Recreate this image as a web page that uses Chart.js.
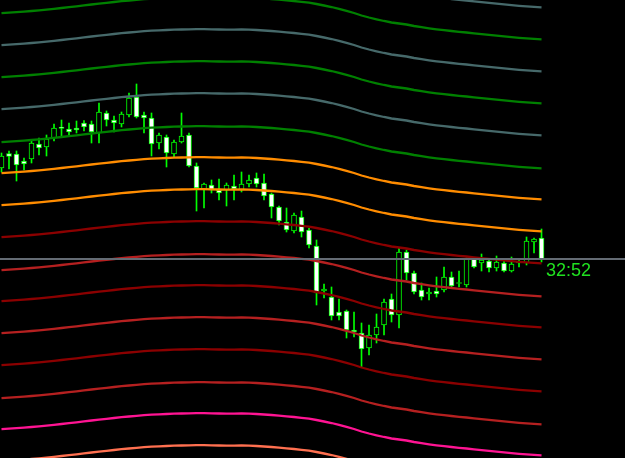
<!DOCTYPE html>
<html>
<head>
<meta charset="utf-8">
<script src="https://cdn.jsdelivr.net/npm/chart.js@4.4.0/dist/chart.umd.min.js"></script>
<style>
    html, body { margin: 0; padding: 0; background: #000; }
    canvas { display: block; }
</style>
</head>
<body>
<canvas id="chartPrice" width="625" height="458"></canvas>
<script>
// candles, oldest first
const opens = [1.08790, 1.088045, 1.08804, 1.08797, 1.08799, 1.08814, 1.08811, 1.08820, 1.08831, 1.08829,
    1.08830, 1.08835, 1.08834, 1.08825, 1.08845, 1.08838, 1.08834, 1.08843, 1.08861, 1.08843,
    1.08840, 1.08815, 1.08821, 1.08804, 1.08816, 1.08823, 1.08792, 1.08768, 1.08773, 1.08768,
    1.08768, 1.08772, 1.08768, 1.08774, 1.08780, 1.08775, 1.08764, 1.08751, 1.08736, 1.08727,
    1.08741, 1.08728, 1.08712, 1.08667, 1.08661, 1.08646, 1.08647, 1.08628, 1.08625, 1.08610,
    1.08623, 1.08633, 1.08659, 1.08643, 1.08706, 1.08685, 1.08668, 1.08664, 1.08667, 1.08668,
    1.08681, 1.086745, 1.08673, 1.08699, 1.08695, 1.08697, 1.08690, 1.08695, 1.08687, 1.08695,
    1.08695, 1.08716, 1.08720];
const closes = [1.08802, 1.088015, 1.08793, 1.08794, 1.08815, 1.08810, 1.08819, 1.08830, 1.088295, 1.08826,
    1.08828, 1.08831, 1.08826, 1.08846, 1.08838, 1.08835, 1.08844, 1.08860, 1.08841, 1.08840,
    1.08814, 1.08823, 1.08805, 1.08816, 1.08822, 1.08792, 1.08770, 1.08774, 1.08768, 1.08765,
    1.08773, 1.08769, 1.08774, 1.08778, 1.08774, 1.08762, 1.08751, 1.08737, 1.08728, 1.08743,
    1.08726, 1.08713, 1.08665, 1.08669, 1.08642, 1.08642, 1.08628, 1.08626, 1.08609, 1.08623,
    1.08631, 1.08656, 1.08643, 1.08706, 1.08685, 1.08666, 1.08661, 1.08666, 1.08664, 1.08681,
    1.08672, 1.086755, 1.08699, 1.08691, 1.08698, 1.08690, 1.08696, 1.08687, 1.08694, 1.08696,
    1.08717, 1.08719, 1.08699];
const highs = [1.08805, 1.08807, 1.08807, 1.08800, 1.08818, 1.08820, 1.08823, 1.08834, 1.08838, 1.08835,
    1.08837, 1.088375, 1.08837, 1.08855, 1.08847, 1.08842, 1.08846, 1.08865, 1.08874, 1.08846,
    1.08845, 1.08825, 1.08823, 1.08818, 1.08845, 1.08825, 1.08795, 1.08775, 1.08778, 1.08779,
    1.08775, 1.08783, 1.08786, 1.08783, 1.08785, 1.08784, 1.08765, 1.08752, 1.08750, 1.08745,
    1.08747, 1.08730, 1.08718, 1.08674, 1.08671, 1.08659, 1.08648, 1.08646, 1.08635, 1.08633,
    1.08644, 1.08659, 1.08664, 1.08710, 1.08708, 1.08687, 1.08675, 1.08670, 1.08681, 1.08691,
    1.08686, 1.08687, 1.08700, 1.08700, 1.08704, 1.08698, 1.08702, 1.08697, 1.08701, 1.08699,
    1.08721, 1.08720, 1.08729];
const lows = [1.08786, 1.08789, 1.08777, 1.08788, 1.08795, 1.08803, 1.08802, 1.08817, 1.08821, 1.08823,
    1.08825, 1.08827, 1.08815, 1.08815, 1.08832, 1.08826, 1.08831, 1.08841, 1.08840, 1.08825,
    1.08802, 1.08809, 1.08791, 1.08801, 1.08815, 1.08791, 1.08747, 1.08750, 1.08765, 1.08758,
    1.08752, 1.08758, 1.08766, 1.08771, 1.08771, 1.08758, 1.08740, 1.08733, 1.08726, 1.08725,
    1.08721, 1.08710, 1.08653, 1.08660, 1.08638, 1.08638, 1.08620, 1.08621, 1.08591, 1.08603,
    1.08615, 1.08623, 1.08636, 1.08630, 1.08678, 1.08664, 1.08658, 1.08658, 1.08661, 1.08666,
    1.08670, 1.08671, 1.08671, 1.08690, 1.08687, 1.08686, 1.08687, 1.08686, 1.08686, 1.08691,
    1.08693, 1.08705, 1.08696];

// moving average the envelope bands sit on
const maBase = [1.087208, 1.087213, 1.087218, 1.087224, 1.087230, 1.087237, 1.087244, 1.087252, 1.087260, 1.087268,
    1.087277, 1.087286, 1.087295, 1.087304, 1.087312, 1.087320, 1.087328, 1.087335, 1.087342, 1.087348,
    1.087353, 1.087357, 1.087360, 1.087363, 1.087365, 1.087367, 1.087368, 1.087368, 1.087367, 1.087365,
    1.087364, 1.087364, 1.087365, 1.087364, 1.087360, 1.087355, 1.087350, 1.087344, 1.087337, 1.087330,
    1.087322, 1.087313, 1.087300, 1.087285, 1.087270, 1.087252, 1.087232, 1.087210, 1.087185, 1.087165,
    1.087147, 1.087130, 1.087115, 1.087105, 1.087095, 1.087080, 1.087068, 1.087057, 1.087047, 1.087038,
    1.087030, 1.087022, 1.087015, 1.087007, 1.086999, 1.086991, 1.086983, 1.086976, 1.086969, 1.086962,
    1.086956, 1.086951, 1.086947];

// band offsets from the average, top band first
const bandShifts = [0.00256, 0.00224, 0.00192, 0.00160, 0.00128, 0.00095, 0.00064, 0.00032,
    0, -0.00033, -0.00064, -0.00096, -0.00128, -0.00161, -0.00192, -0.00224];
const bandColors = ['#46696a', '#008000', '#46696a', '#008000', '#46696a', '#008000', '#ff8c00', '#ff8c00',
    '#8b0000', '#b52020', '#8b0000', '#b52020', '#8b0000', '#b52020', '#ff1493', '#ff7050'];

const bidPrice = 1.08699;
const timerLabel = '32:52';

const priceMin = 1.08500;
const priceMax = 1.08958;
const indexMin = -0.2;
const indexMax = 83.13;

const bodies = opens.map((o, i) => ({ x: i, y: [o, closes[i]] }));
const wicks = lows.map((l, i) => ({ x: i, y: [l, highs[i]] }));

const datasets = [];

// envelope lines, drawn over the candles
bandShifts.forEach((shift, k) => {
    datasets.push({
        type: 'line',
        data: maBase.map((m, i) => ({ x: i, y: m + shift })),
        borderColor: bandColors[k],
        borderWidth: 2.3,
        pointRadius: 0,
        tension: 0,
        order: 1
    });
});

// bid line
datasets.push({
    type: 'line',
    data: [{ x: indexMin, y: bidPrice }, { x: indexMax, y: bidPrice }],
    borderColor: '#646b74',
    borderWidth: 2,
    pointRadius: 0,
    order: 0
});

datasets.push({
    type: 'bar',
    data: bodies,
    backgroundColor: opens.map((o, i) => closes[i] < o ? '#ffffff' : '#000000'),
    borderColor: '#00ff00',
    borderWidth: 1,
    borderSkipped: false,
    barThickness: 5,
    grouped: false,
    order: 2
});

datasets.push({
    type: 'bar',
    data: wicks,
    backgroundColor: '#00ff00',
    borderWidth: 0,
    barThickness: 1,
    grouped: false,
    order: 3
});

// countdown text next to the last candle
const timerPlugin = {
    id: 'timerText',
    afterDraw(chart) {
        const ctx = chart.ctx;
        const x = chart.scales.x.getPixelForValue(opens.length - 1) + 4.5;
        const y = chart.scales.y.getPixelForValue(bidPrice) + 17;
        ctx.save();
        ctx.fillStyle = '#20e020';
        ctx.font = '18px "Liberation Sans", Arial, sans-serif';
        ctx.textAlign = 'left';
        ctx.textBaseline = 'alphabetic';
        ctx.fillText(timerLabel, x, y);
        ctx.restore();
    }
};

const ctxPrice = document.getElementById('chartPrice').getContext('2d');
const priceChart = new Chart(ctxPrice, {
    type: 'bar',
    data: { datasets: datasets },
    options: {
        responsive: false,
        animation: false,
        devicePixelRatio: 1,
        layout: { padding: 0 },
        plugins: {
            legend: { display: false },
            tooltip: { enabled: false }
        },
        scales: {
            x: {
                type: 'linear',
                min: indexMin,
                max: indexMax,
                offset: false,
                display: false
            },
            y: {
                type: 'linear',
                min: priceMin,
                max: priceMax,
                display: false
            }
        }
    },
    plugins: [timerPlugin]
});
</script>
</body>
</html>
